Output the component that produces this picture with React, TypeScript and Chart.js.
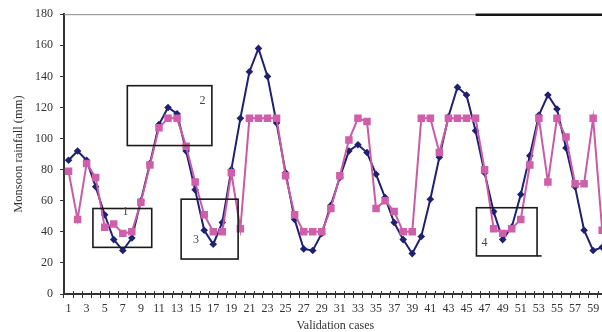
import React, { useEffect, useRef } from 'react';
import { Chart, registerables } from 'chart.js';

Chart.register(...registerables);

// Validation case numbers (case 60 lies just past the cropped right edge)
const cases = [
  '1', '2', '3', '4', '5', '6', '7', '8', '9', '10',
  '11', '12', '13', '14', '15', '16', '17', '18', '19', '20',
  '21', '22', '23', '24', '25', '26', '27', '28', '29', '30',
  '31', '32', '33', '34', '35', '36', '37', '38', '39', '40',
  '41', '42', '43', '44', '45', '46', '47', '48', '49', '50',
  '51', '52', '53', '54', '55', '56', '57', '58', '59', '60',
];

// Observed monsoon rainfall (dark blue diamonds)
const observed = [
  86, 92, 86, 69, 51, 35, 28, 36, 60, 84,
  109, 120, 116, 92, 67, 41, 32, 46, 80, 113,
  143, 158, 140, 110, 78, 48, 29, 28, 39, 57,
  75, 92, 96, 91, 77, 62, 46, 35, 26, 37,
  61, 88, 114, 133, 128, 105, 78, 53, 35, 43,
  64, 89, 115, 128, 119, 94, 69, 41, 28, 30,
];

// Predicted monsoon rainfall (magenta squares)
const predicted = [
  79, 48, 84, 75, 43, 45, 39, 40, 59, 83,
  107, 113, 113, 95, 72, 51, 40, 40, 78, 42,
  113, 113, 113, 113, 76, 51, 40, 40, 40, 55,
  76, 99, 113, 111, 55, 60, 53, 40, 40, 113,
  113, 91, 113, 113, 113, 113, 80, 42, 39, 42,
  48, 83, 113, 72, 113, 101, 71, 71, 113, 41,
];

const yMin = 0;
const yMax = 180;
const yStep = 20;

// Annotation boxes, in data coordinates (category index, rainfall value)
const boxLabels = ['1', '2', '3', '4'];
const boxFrom = [2.7, 6.5, 12.45, 45.1];
const boxTo = [9.2, 15.85, 18.75, 51.8];
const boxTop = [55, 134, 61, 55.5];
const boxBottom = [30, 95.5, 22.5, 24.5];
const boxBottomTo = [9.2, 15.85, 18.75, 52.3];
const labelAtX = [6.3, 14.8, 14.1, 46.0];
const labelAtY = [53, 124, 35, 33];
const topBarFrom = 45.0;

const serif = '"Liberation Serif", "DejaVu Serif", serif';

const decor = {
  id: 'decor',
  afterDatasetsDraw(chart: any) {
    const { ctx, chartArea, scales } = chart;
    const x = scales.x;
    const y = scales.y;
    ctx.save();
    // top border of plot area
    const yTop = y.getPixelForValue(yMax);
    const split = x.getPixelForValue(topBarFrom);
    ctx.strokeStyle = '#8c8c8c';
    ctx.lineWidth = 1;
    ctx.beginPath();
    ctx.moveTo(chartArea.left, yTop + 0.5);
    ctx.lineTo(split, yTop + 0.5);
    ctx.stroke();
    ctx.strokeStyle = '#151515';
    ctx.lineWidth = 2.5;
    ctx.beginPath();
    ctx.moveTo(split, yTop + 0.5);
    ctx.lineTo(chartArea.right, yTop + 0.5);
    ctx.stroke();

    // upper half of the crossing tick marks on the x axis
    ctx.strokeStyle = '#333';
    ctx.lineWidth = 1;
    ctx.beginPath();
    for (let k = 0; k <= cases.length; k++) {
      const px = Math.round(x.getPixelForValue(k - 0.5)) + 0.5;
      ctx.moveTo(px, chartArea.bottom - 3);
      ctx.lineTo(px, chartArea.bottom);
    }
    ctx.stroke();

    // annotation boxes
    ctx.strokeStyle = '#1a1a1a';
    ctx.lineWidth = 1.6;
    ctx.fillStyle = '#444';
    ctx.font = '12px ' + serif;
    ctx.textAlign = 'center';
    ctx.textBaseline = 'middle';
    for (let i = 0; i < boxLabels.length; i++) {
      const l = x.getPixelForValue(boxFrom[i]);
      const r = x.getPixelForValue(boxTo[i]);
      const t = y.getPixelForValue(boxTop[i]);
      const b = y.getPixelForValue(boxBottom[i]);
      ctx.strokeRect(l, t, r - l, b - t);
      ctx.beginPath();
      ctx.moveTo(r, b);
      ctx.lineTo(x.getPixelForValue(boxBottomTo[i]), b);
      ctx.stroke();
      ctx.fillText(boxLabels[i], x.getPixelForValue(labelAtX[i]), y.getPixelForValue(labelAtY[i]));
    }
    ctx.restore();
  },
};

export default function App() {
  const ref = useRef<HTMLCanvasElement | null>(null);

  useEffect(() => {
    if (!ref.current) return;
    const chart = new Chart(ref.current, {
      type: 'line',
      data: {
        labels: cases,
        datasets: [
          {
            label: 'Predicted',
            data: predicted,
            borderColor: '#c95aa6',
            backgroundColor: '#cf5faa',
            borderWidth: 2,
            pointStyle: 'rect',
            pointRadius: 5.3,
            pointBorderWidth: 0,
            tension: 0,
          },
          {
            label: 'Observed',
            data: observed,
            borderColor: '#1f2070',
            backgroundColor: '#1f2070',
            borderWidth: 2,
            pointStyle: 'rectRot',
            pointRadius: 3.8,
            pointBorderWidth: 0,
            tension: 0,
          },
        ],
      },
      options: {
        responsive: false,
        animation: false,
        layout: { padding: { top: 13, right: 2, left: 0, bottom: 0 } },
        plugins: {
          legend: { display: false },
          tooltip: { enabled: false },
        },
        scales: {
          x: {
            type: 'category',
            offset: true,
            afterFit: (s: any) => {
              s.height = 38;
            },
            grid: {
              offset: true,
              drawOnChartArea: false,
              drawTicks: true,
              tickLength: 4,
              color: '#333',
            },
            border: { display: true, color: '#333', width: 2 },
            ticks: {
              autoSkip: false,
              maxRotation: 0,
              minRotation: 0,
              padding: 4,
              color: '#333',
              font: { family: serif, size: 12 },
              callback: (_v: any, i: number) => (i % 2 === 0 ? cases[i] : ''),
            },
            title: {
              display: true,
              text: 'Validation cases',
              color: '#333',
              font: { family: serif, size: 12, lineHeight: 1 },
              padding: { top: 0, bottom: 0 },
            },
          },
          y: {
            min: yMin,
            max: yMax,
            afterFit: (s: any) => {
              s.width = 64;
            },
            grid: {
              drawOnChartArea: false,
              drawTicks: true,
              tickLength: 4,
              color: '#333',
            },
            border: { display: true, color: '#333', width: 2 },
            ticks: {
              stepSize: yStep,
              padding: 7,
              color: '#333',
              font: { family: serif, size: 12 },
            },
            title: {
              display: true,
              text: 'Monsoon rainfall (mm)',
              color: '#333',
              font: { family: serif, size: 12.5 },
              padding: { top: 11, bottom: 0 },
            },
          },
        },
      },
      plugins: [decor],
    });
    return () => chart.destroy();
  }, []);

  return (
    <div
      style={{
        position: 'fixed',
        left: 0,
        top: 0,
        width: '100vw',
        height: '100vh',
        overflow: 'hidden',
        background: '#fff',
      }}
    >
      <canvas ref={ref} width={612} height={332} style={{ display: 'block' }} />
    </div>
  );
}
